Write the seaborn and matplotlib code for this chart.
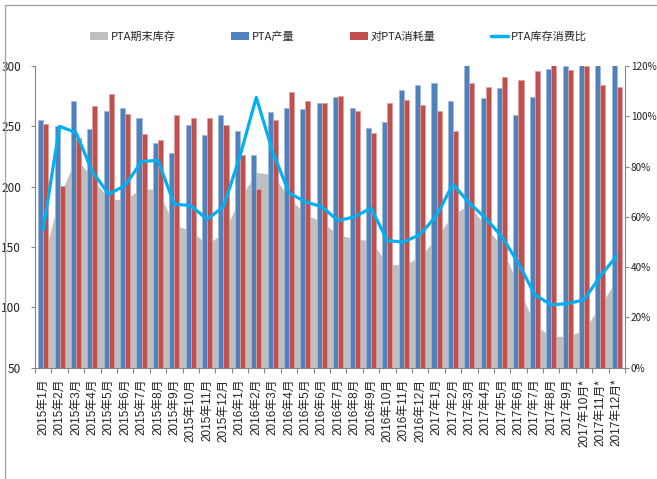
import numpy as np
import pandas as pd
import matplotlib
matplotlib.use("Agg")
import matplotlib.pyplot as plt
import seaborn as sns
from matplotlib.lines import Line2D
from matplotlib.patches import Patch
from matplotlib.ticker import FuncFormatter, FixedLocator

# ---------------- data ----------------
months = [
    "2015年1月", "2015年2月", "2015年3月", "2015年4月", "2015年5月", "2015年6月",
    "2015年7月", "2015年8月", "2015年9月", "2015年10月", "2015年11月", "2015年12月",
    "2016年1月", "2016年2月", "2016年3月", "2016年4月", "2016年5月", "2016年6月",
    "2016年7月", "2016年8月", "2016年9月", "2016年10月", "2016年11月", "2016年12月",
    "2017年1月", "2017年2月", "2017年3月", "2017年4月", "2017年5月", "2017年6月",
    "2017年7月", "2017年8月", "2017年9月", "2017年10月*", "2017年11月*", "2017年12月*",
]
production = [
    255, 250, 271, 247.5, 263, 265, 257, 236, 228, 251, 242.5, 259.5,
    246.5, 226, 262, 265.5, 264, 269.5, 274, 265.5, 248.5, 253.5, 280.5, 284.5,
    285.5, 271, 302, 273.5, 282, 259.5, 274.5, 297.5, 300, 302, 302, 302,
]
consumption = [
    252, 200.5, 240.5, 266.5, 277, 260.5, 244, 239, 259.5, 256.5, 257, 251.5,
    226.5, 198, 255.5, 278.5, 271, 269, 275.5, 263, 244.5, 269, 271.5, 267.5,
    263, 246.5, 285.5, 283, 291, 288.5, 296, 301, 296.5, 300, 284, 283,
]
inventory = [
    140, 192, 224, 207, 190, 189, 199, 197, 168, 164, 152, 162,
    190, 212, 210, 191, 177, 171, 160, 157, 155, 136, 135, 142,
    158, 177, 185, 167, 150, 117, 85, 76, 76, 81, 102, 123,
]
ratio = [
    55, 96, 93.5, 78, 69, 72.5, 82, 82.5, 65, 64.5, 59, 64,
    84, 107.5, 86, 69.5, 66, 64, 58.5, 60, 63.5, 50.5, 50, 53,
    60.5, 73, 65.5, 59.5, 52, 41.5, 29, 25, 25.5, 27, 36.5, 44.5,
]
legend_labels = ["PTA期末库存", "PTA产量", "对PTA消耗量", "PTA库存消费比"]
left_ticks = [50, 100, 150, 200, 250, 300]
right_ticks = [0, 20, 40, 60, 80, 100, 120]

# ---------------- style ----------------
c_inv = "#BFBFBF"
c_prod = "#4F81BD"
c_cons = "#C0504D"
c_line = "#00B0F0"
c_axis = "#868686"

sns.set_theme(style="ticks")
plt.rcParams["font.family"] = ["Liberation Sans Narrow", "Noto Sans CJK SC", "DejaVu Sans"]
narrow_font = ["Liberation Sans Narrow", "Noto Sans CJK SC", "DejaVu Sans"]
label_font = ["Liberation Sans", "Noto Sans CJK SC", "DejaVu Sans"]

W, H = 657, 479
fig = plt.figure(figsize=(W / 100, H / 100), dpi=100)
ax = fig.add_axes([35 / W, 1 - 367.7 / H, (625 - 35) / W, (367.7 - 66) / H])

df = pd.DataFrame({
    "month": months * 2,
    "value": production + consumption,
    "series": [legend_labels[1]] * len(months) + [legend_labels[2]] * len(months),
})
sns.barplot(data=df, x="month", y="value", hue="series",
            hue_order=[legend_labels[1], legend_labels[2]],
            palette=[c_prod, c_cons], saturation=1, width=0.62, gap=0.0,
            legend=False, ax=ax, order=months)
for p in ax.patches:
    fc = p.get_facecolor()
    lighter = tuple(min(1, c + (1 - c) * 0.45) for c in fc[:3])
    p.set_edgecolor(lighter)
    p.set_linewidth(0.6)

x = np.arange(len(months))
ax.fill_between(x, 0, inventory, color=c_inv, lw=0, zorder=0.5)

ax.set_ylim(50, 300)
ax.set_yticks(left_ticks)
ax.set_xlabel("")
ax.set_ylabel("")

ax2 = ax.twinx()
sns.lineplot(x=x, y=ratio, ax=ax2, color=c_line, lw=2.3, zorder=5)
ax2.set_ylim(0, 120)
ax2.yaxis.set_major_locator(FixedLocator(right_ticks))
ax2.yaxis.set_major_formatter(FuncFormatter(lambda v, _: f"{v:.0f}%"))
ax2.set_xlabel("")
ax2.set_ylabel("")
ax.set_xlim(-0.5, len(months) - 0.5)

# spines
for a in (ax, ax2):
    for s in a.spines.values():
        s.set_color(c_axis)
        s.set_linewidth(0.8)
ax.spines["top"].set_visible(False)
ax.spines["right"].set_visible(False)
ax2.spines["top"].set_visible(False)
ax2.spines["left"].set_visible(False)
ax2.spines["bottom"].set_visible(False)

# ticks
ax.set_xticks(x)
ax.set_xticklabels(months, rotation=90, fontfamily=label_font, fontsize=8.5)
ax.set_xticks(np.arange(-0.5, len(months)), minor=True)
ax.tick_params(axis="x", which="major", length=0, pad=8, colors="#222222")
ax.tick_params(axis="x", which="minor", length=3.5, width=0.8, color=c_axis, direction="out")
ax.tick_params(axis="y", length=3, width=0.8, color=c_axis, direction="out",
               labelsize=8.5, pad=7, labelcolor="#222222")
ax2.tick_params(axis="y", length=3, width=0.8, color=c_axis, direction="out",
                labelsize=7.2, pad=1.2, labelcolor="#222222")
for t in ax.get_yticklabels() + ax2.get_yticklabels():
    t.set_fontfamily(narrow_font)

# legend
handles = [
    Patch(facecolor=c_inv, edgecolor="none"),
    Patch(facecolor=c_prod, edgecolor="none"),
    Patch(facecolor=c_cons, edgecolor="none"),
    Line2D([0], [0], color=c_line, lw=2.5),
]
fig.legend(handles, legend_labels, loc="center left",
           bbox_to_anchor=(90 / W, 1 - 37 / H), ncol=4, frameon=False,
           prop={"family": narrow_font, "size": 8},
           handlelength=1.6, handleheight=0.75, handletextpad=0.25,
           columnspacing=5.0, borderpad=0, borderaxespad=0)

# outer frame lines (top and left)
fig.add_artist(Line2D([4.5 / W, 4.5 / W], [0, 1 - 4.5 / H], transform=fig.transFigure,
                      color="#A6A6A6", lw=1))
fig.add_artist(Line2D([4.5 / W, 1], [1 - 4.5 / H, 1 - 4.5 / H], transform=fig.transFigure,
                      color="#A6A6A6", lw=1))

fig.savefig("out.png", dpi=100)
